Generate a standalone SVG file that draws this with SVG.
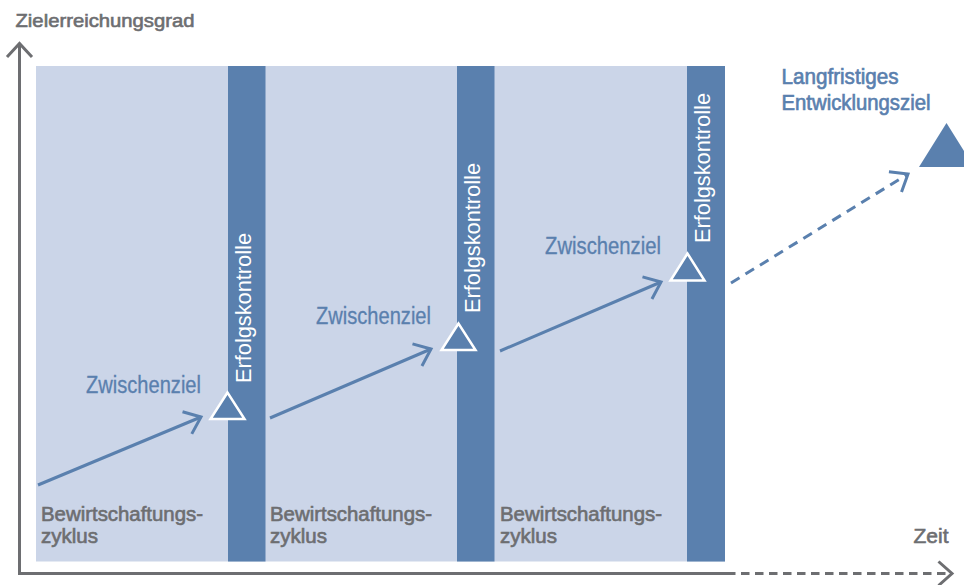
<svg xmlns="http://www.w3.org/2000/svg" width="964" height="585" viewBox="0 0 964 585">
<defs>
<style>
.bg{fill:#cbd5e8}
.bar{fill:#5a80ae}
.gray{font-family:"Liberation Sans",Arial,sans-serif;fill:#6d6e71;stroke:#6d6e71;stroke-width:0.6}
.blue{font-family:"Liberation Sans",Arial,sans-serif;fill:#5a80ae;stroke:#5a80ae;stroke-width:0.3}
.strong{stroke-width:0.65}
.white{font-family:"Liberation Sans",Arial,sans-serif;fill:#ffffff;font-size:21.5px}
.tri{fill:#5a80ae;stroke:#ffffff;stroke-width:2.5;stroke-linejoin:miter}
.arrow{fill:none;stroke:#5a80ae;stroke-width:3}
.axis{fill:none;stroke:#6d6e71;stroke-width:3}
</style>
<marker id="headBlue" markerUnits="userSpaceOnUse" viewBox="-20 -20 40 40" markerWidth="40" markerHeight="40" refX="0" refY="0" orient="auto" overflow="visible">
<path d="M-15,-12 L0,0 L-15,12" fill="none" stroke="#5a80ae" stroke-width="3"/>
</marker>
<marker id="headGray" markerUnits="userSpaceOnUse" viewBox="-20 -20 40 40" markerWidth="40" markerHeight="40" refX="0" refY="0" orient="auto" overflow="visible">
<path d="M-13.5,-12 L0,0 L-13.5,12" fill="none" stroke="#6d6e71" stroke-width="3"/>
</marker>
</defs>
<rect width="964" height="585" fill="#ffffff"/>
<g id="background">
<rect class="bg" x="36" y="66" width="689" height="495.5"/>
</g>
<g id="cycle1"><text class="gray" font-size="19.5"><tspan x="41" y="521" textLength="162" lengthAdjust="spacingAndGlyphs">Bewirtschaftungs-</tspan><tspan x="41" y="543.3" textLength="57" lengthAdjust="spacingAndGlyphs">zyklus</tspan></text></g>
<g id="cycle2"><text class="gray" font-size="19.5"><tspan x="270" y="521" textLength="162" lengthAdjust="spacingAndGlyphs">Bewirtschaftungs-</tspan><tspan x="270" y="543.3" textLength="57" lengthAdjust="spacingAndGlyphs">zyklus</tspan></text></g>
<g id="cycle3"><text class="gray" font-size="19.5"><tspan x="500" y="521" textLength="162" lengthAdjust="spacingAndGlyphs">Bewirtschaftungs-</tspan><tspan x="500" y="543.3" textLength="57" lengthAdjust="spacingAndGlyphs">zyklus</tspan></text></g>
<g id="control1">
<rect class="bar" x="228" y="66" width="37.5" height="495.5"/>
<text class="white" transform="translate(251,383) rotate(-90)" textLength="150" lengthAdjust="spacingAndGlyphs">Erfolgskontrolle</text>
</g>
<g id="control2">
<rect class="bar" x="457" y="66" width="37.5" height="495.5"/>
<text class="white" transform="translate(480,313) rotate(-90)" textLength="150" lengthAdjust="spacingAndGlyphs">Erfolgskontrolle</text>
</g>
<g id="control3">
<rect class="bar" x="687" y="66" width="38" height="495.5"/>
<text class="white" transform="translate(710,243) rotate(-90)" textLength="150" lengthAdjust="spacingAndGlyphs">Erfolgskontrolle</text>
</g>
<g id="goal1">
<polygon class="tri" points="227.5,392.5 210.5,419 244.5,419"/>
<text class="blue" font-size="23" x="86" y="393.3" textLength="115" lengthAdjust="spacingAndGlyphs">Zwischenziel</text>
</g>
<g id="goal2">
<polygon class="tri" points="458.5,323.5 441.5,350 475.5,350"/>
<text class="blue" font-size="23" x="316" y="324" textLength="115" lengthAdjust="spacingAndGlyphs">Zwischenziel</text>
</g>
<g id="goal3">
<polygon class="tri" points="687.5,253.5 670.5,280.5 704.5,280.5"/>
<text class="blue" font-size="23" x="545" y="254" textLength="116" lengthAdjust="spacingAndGlyphs">Zwischenziel</text>
</g>
<g id="longterm">
<polygon points="946.5,123 919,167 974,167" fill="#5a80ae"/>
<text class="blue strong" font-size="21.5"><tspan x="781.5" y="84" textLength="117" lengthAdjust="spacingAndGlyphs">Langfristiges</tspan><tspan x="781.5" y="110" textLength="149" lengthAdjust="spacingAndGlyphs">Entwicklungsziel</tspan></text>
</g>
<g id="axes">
<path class="axis" d="M19.5,44 V573.5 H727"/>
<path class="axis" d="M7,57 L19.5,43.5 L32,57"/>
<path class="axis" d="M727,573.5 H952" stroke-dasharray="8.5 5.5" marker-end="url(#headGray)"/>
<text class="gray" font-size="18.5" x="15.5" y="26.7" textLength="179" lengthAdjust="spacingAndGlyphs">Zielerreichungsgrad</text>
<text class="gray" font-size="20" x="913.5" y="543.3" textLength="35" lengthAdjust="spacingAndGlyphs">Zeit</text>
</g>
<g id="connectors">
<path class="arrow" d="M38,485 L201,417" marker-end="url(#headBlue)"/>
<path class="arrow" d="M270,418 L431,349" marker-end="url(#headBlue)"/>
<path class="arrow" d="M500,351 L661,282" marker-end="url(#headBlue)"/>
<path class="arrow" d="M731,283 L908,174" stroke-dasharray="10 7" marker-end="url(#headBlue)"/>
</g>
</svg>
